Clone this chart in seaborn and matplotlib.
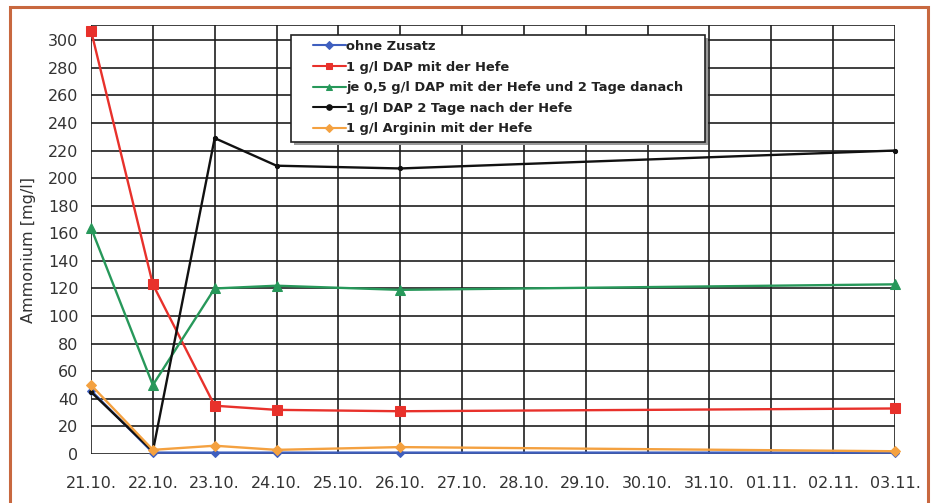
import numpy as np
import pandas as pd
import matplotlib
matplotlib.use("Agg")
import matplotlib.pyplot as plt
from matplotlib.patches import Rectangle
import seaborn as sns

# x-axis calendar (one tick per day)
tick_labels = ["21.10.", "22.10.", "23.10.", "24.10.", "25.10.", "26.10.", "27.10.",
               "28.10.", "29.10.", "30.10.", "31.10.", "01.11.", "02.11.", "03.11."]

# sampling days (index into tick_labels)
sample_days = [0, 1, 2, 3, 5, 13]

series_names = [
    "ohne Zusatz",
    "1 g/l DAP mit der Hefe",
    "je 0,5 g/l DAP mit der Hefe und 2 Tage danach",
    "1 g/l DAP 2 Tage nach der Hefe",
    "1 g/l Arginin mit der Hefe",
]

ohne_zusatz = [46, 1, 1, 1, 1, 1]
dap_mit_hefe = [307, 123, 35, 32, 31, 33]
dap_halb_halb = [164, 50, 120, 122, 119, 123]
dap_2_tage_nach = [45, 2, 229, 209, 207, 220]
arginin_mit_hefe = [50, 3, 6, 3, 5, 2]

values = [ohne_zusatz, dap_mit_hefe, dap_halb_halb, dap_2_tage_nach, arginin_mit_hefe]

df = pd.DataFrame({
    "Tag": np.tile(sample_days, len(series_names)),
    "Ammonium": np.concatenate(values),
    "Variante": np.repeat(series_names, len(sample_days)),
})

colors = ["#3f5fbf", "#e8312b", "#27985a", "#111111", "#f4a140"]
marker_map = ["D", "s", "^", "o", "D"]
marker_size = [4, 7, 7, 3, 5]

sns.set_theme(style="white")
plt.rcParams["font.family"] = ["DejaVu Sans"]

W, H = 933, 503
fig = plt.figure(figsize=(W / 100, H / 100), dpi=100)
fig.patch.set_facecolor("white")
ax = fig.add_axes([91 / W, 1 - 454 / H, (895 - 91) / W, (454 - 25) / H])
ax.set_facecolor("white")

# orange frame around the whole graphic
fig.add_artist(Rectangle((10 / W, -0.05), (928 - 10) / W, 1 - 7 / H + 0.05,
                         transform=fig.transFigure, fill=False,
                         edgecolor="#c8683f", linewidth=2.2, zorder=0))

for name, vals, c, m, ms in zip(series_names, values, colors, marker_map, marker_size):
    sub = df[df["Variante"] == name]
    sns.lineplot(data=sub, x="Tag", y="Ammonium", ax=ax, color=c, marker=m,
                 markersize=ms, markeredgecolor=c, linewidth=1.7, label=name,
                 zorder=3, clip_on=False)

ax.set_xlim(0, 13)
ax.set_ylim(0, 311)
ax.set_xticks(range(len(tick_labels)))
ax.set_xticklabels(tick_labels)
ax.set_yticks(range(0, 301, 20))

ax.grid(True, color="#1e1e1e", linewidth=1.4, alpha=0.85)
ax.set_axisbelow(True)
for s in ax.spines.values():
    s.set_visible(False)
ax.axhline(311, color="#1e1e1e", linewidth=1.4, alpha=0.85, zorder=1)

ax.tick_params(axis="both", which="both", length=7, width=1.2, color="#222222",
               labelsize=11.5, labelcolor="#333333")
ax.tick_params(axis="y", pad=2)
ax.tick_params(axis="x", pad=9)
ax.set_xlabel("")
ax.set_ylabel("Ammonium [mg/l]", fontsize=11.5, color="#333333")
ax.yaxis.set_label_coords(-0.068, 0.4755)

leg = ax.legend(loc="upper left", bbox_to_anchor=(222 / 804, 1 - 15 / 429),
                frameon=False, handlelength=2.5, handletextpad=0.05,
                labelspacing=0.58, borderpad=0.0, borderaxespad=0,
                prop={"weight": "bold", "size": 9.4})
for t in leg.get_texts():
    t.set_color("#222222")
for h in leg.legend_handles:
    h.set_markersize(4)
    h.set_linewidth(1.5)
leg.set_zorder(6)

# legend box with a soft drop shadow, padded around the legend content
fig.canvas.draw()
bb = leg.get_window_extent().transformed(fig.transFigure.inverted())
px, pt, pb = 22 / W, 5 / H, 7 / H
x0, y0 = bb.x0 - px, bb.y0 - pb
bw, bh = bb.width + 2 * px, bb.height + pt + pb
fig.add_artist(Rectangle((x0 + 3 / W, y0 - 3 / H), bw, bh, transform=fig.transFigure,
                         facecolor="#9a9a9a", edgecolor="none", zorder=4))
fig.add_artist(Rectangle((x0, y0), bw, bh, transform=fig.transFigure,
                         facecolor="white", edgecolor="#222222", linewidth=1.2,
                         zorder=5))
fig.add_artist(leg)
ax.legend_ = None

fig.savefig("out.png", dpi=100)
